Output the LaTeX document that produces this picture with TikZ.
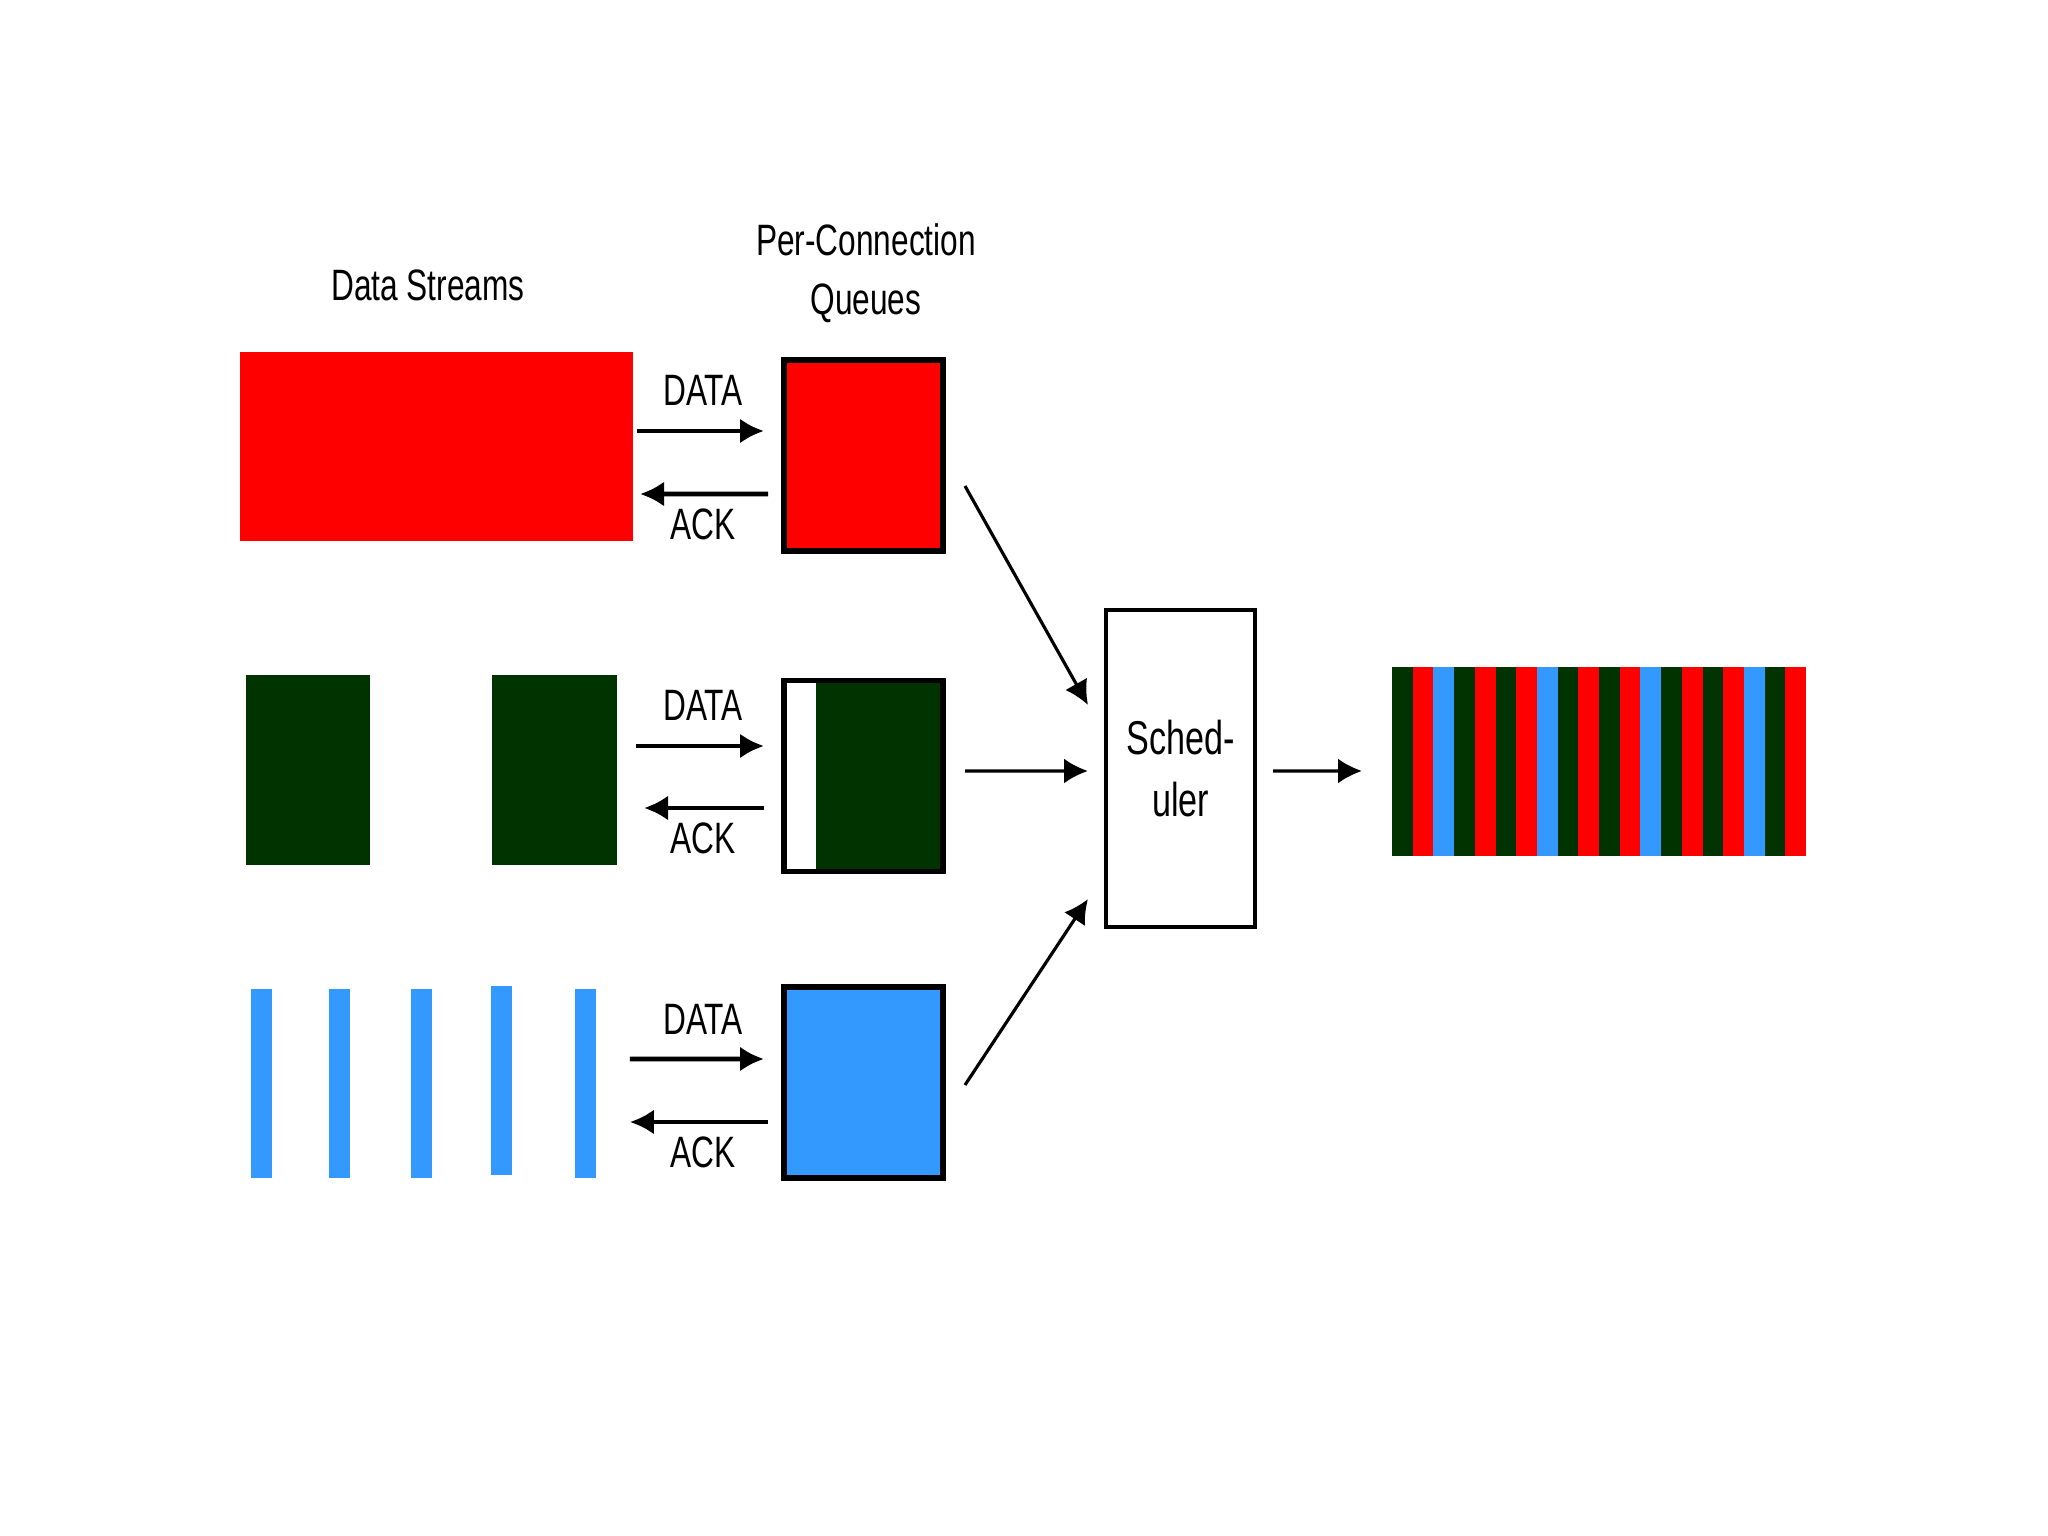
\documentclass[tikz,border=0pt]{standalone}
\usepackage{fontspec}
\setmainfont{Liberation Sans}[FakeStretch=0.72]
\usetikzlibrary{arrows.meta}
\definecolor{strred}{HTML}{FF0000}
\definecolor{strgreen}{HTML}{003300}
\definecolor{strblue}{HTML}{3399FF}
\begin{document}
\begin{tikzpicture}[font=\fontsize{12.5}{16.8}\selectfont, >={Latex[length=2.4mm,width=2.5mm]},
      blocknode/.style={inner sep=0pt, outer sep=0pt},
      streamnode/.style={blocknode, minimum height=1.89cm},
      queuenode/.style={blocknode, draw, line width=1.5pt, minimum width=1.59cm, minimum height=1.91cm},
      stripenode/.style={blocknode, minimum width=0.207cm, minimum height=1.89cm},
      flowarr/.style={->, line width=1.3pt},
      feedarr/.style={->, line width=0.9pt}]
    \useasboundingbox (0,0) rectangle (20.48,-15.36);
    % titles
    \node (ttl) at (4.28,-2.85) {Data Streams};
    \node[align=center] (qtl) at (8.66,-2.73) {Per-Connection\\Queues};
    % streams
    \node[streamnode, fill=strred, minimum width=3.93cm] (rs) at (4.365,-4.47) {};
    \node[streamnode, fill=strgreen, minimum width=1.24cm] (gs1) at (3.08,-7.70) {};
    \node[streamnode, fill=strgreen, minimum width=1.25cm] (gs2) at (5.545,-7.70) {};
    \foreach \x/\y [count=\i] in {2.615/-10.835, 3.395/-10.835, 4.215/-10.835, 5.015/-10.805, 5.855/-10.835}
      \node[stripenode, fill=strblue] (bs\i) at (\x,\y) {};
    % queues
    \node[queuenode, fill=strred] (rq) at (8.635,-4.555) {};
    \node[queuenode, fill=strgreen, path picture={\fill[white] (path picture bounding box.south west) rectangle ([xshift=0.32cm]path picture bounding box.north west);}] (gq) at (8.635,-7.76) {};
    \node[queuenode, fill=strblue] (bq) at (8.635,-10.825) {};
    % scheduler
    \node[blocknode, draw, line width=1.2pt, minimum width=1.49cm, minimum height=3.17cm, align=center,
          font=\fontsize{13.5}{17.5}\selectfont] (sch) at (11.805,-7.685) {Sched-\\uler};
    % output
    \foreach \c [count=\i from 0] in {strgreen,strred,strblue,strgreen,strred,strgreen,strred,strblue,strgreen,strred,
                                     strgreen,strred,strblue,strgreen,strred,strgreen,strred,strblue,strgreen,strred}
      \node[stripenode, fill=\c, anchor=west] (os\i) at (13.92+0.207*\i,-7.615) {};
    % data and ack
    \node (rd) at (7.03,-3.90) {DATA};
    \node (ra) at (7.03,-5.24) {ACK};
    \node (gd) at (7.03,-7.05) {DATA};
    \node (ga) at (7.03,-8.38) {ACK};
    \node (bd) at (7.03,-10.19) {DATA};
    \node (ba) at (7.03,-11.52) {ACK};
    \draw[flowarr] ([xshift=0.04cm,yshift=0.16cm]rs.east) -- ([xshift=-0.2cm,yshift=0.245cm]rq.west);
    \draw[flowarr] ([xshift=-0.16cm,yshift=-0.385cm]rq.west) -- ([xshift=0.07cm,yshift=-0.47cm]rs.east);
    \draw[flowarr] ([xshift=0.19cm,yshift=0.24cm]gs2.east) -- ([xshift=-0.2cm,yshift=0.30cm]gq.west);
    \draw[flowarr] ([xshift=-0.2cm,yshift=-0.32cm]gq.west) -- ([xshift=0.27cm,yshift=-0.38cm]gs2.east);
    \draw[flowarr] ([xshift=0.34cm,yshift=0.245cm]bs5.east) -- ([xshift=-0.2cm,yshift=0.235cm]bq.west);
    \draw[flowarr] ([xshift=-0.16cm,yshift=-0.395cm]bq.west) -- ([xshift=0.34cm,yshift=-0.385cm]bs5.east);
    % into and out of the scheduler
    \draw[feedarr] ([xshift=0.22cm,yshift=-0.305cm]rq.east) -- ([xshift=-0.18cm,yshift=0.635cm]sch.west);
    \draw[feedarr] ([xshift=0.22cm,yshift=0.05cm]gq.east) -- ([xshift=-0.18cm,yshift=-0.025cm]sch.west);
    \draw[feedarr] ([xshift=0.22cm,yshift=-0.025cm]bq.east) -- ([xshift=-0.18cm,yshift=-1.305cm]sch.west);
    \draw[feedarr] ([xshift=0.18cm,yshift=-0.025cm]sch.east) -- ([xshift=-0.3cm,yshift=-0.095cm]os0.west);
  \end{tikzpicture}
\end{document}
